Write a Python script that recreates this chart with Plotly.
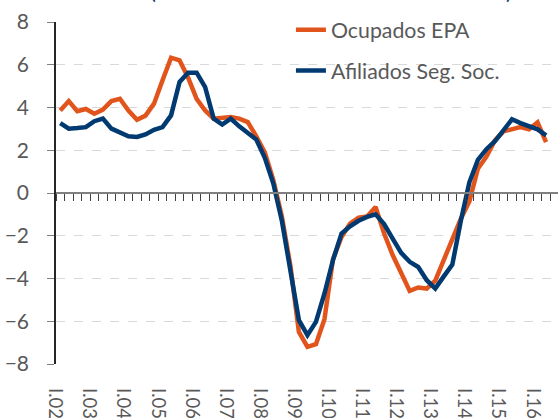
import plotly.graph_objects as go

# Quarterly data 2002Q1 .. 2016Q2 (year-on-year % change)
quarters = [f"{q}T{y:02d}" for y in range(2, 17) for q in ("I", "II", "III", "IV")][:58]

ocupados_epa = [
    3.86, 4.30, 3.83, 3.93, 3.71, 3.90, 4.30, 4.41, 3.86, 3.43,
    3.62, 4.18, 5.27, 6.33, 6.20, 5.40, 4.40, 3.86, 3.48, 3.52,
    3.55, 3.48, 3.32, 2.65, 1.90, 0.60, -1.10, -3.40, -6.50, -7.20,
    -7.07, -5.90, -3.10, -2.06, -1.43, -1.15, -1.10, -0.65, -1.90, -2.90,
    -3.70, -4.58, -4.42, -4.47, -4.10, -3.10, -2.20, -1.20, -0.40, 1.14,
    1.70, 2.46, 2.88, 3.00, 3.08, 2.98, 3.30, 2.38,
]

afiliados_ss = [
    3.27, 3.01, 3.04, 3.08, 3.36, 3.48, 3.01, 2.85, 2.65, 2.62,
    2.74, 2.96, 3.08, 3.63, 5.20, 5.63, 5.63, 4.95, 3.48, 3.20,
    3.48, 3.12, 2.80, 2.50, 1.65, 0.44, -1.30, -3.50, -5.95, -6.65,
    -6.03, -4.70, -3.14, -1.90, -1.56, -1.30, -1.12, -1.00, -1.45, -2.13,
    -2.80, -3.22, -3.46, -4.08, -4.47, -3.90, -3.35, -1.30, 0.50, 1.55,
    2.05, 2.42, 2.93, 3.45, 3.27, 3.15, 2.98, 2.70,
]

tick_labels = [f"I.{y:02d}" for y in range(2, 17)]
tick_positions = list(range(0, 58, 4))
y_ticks = list(range(-8, 9, 2))

series_names = ["Ocupados EPA", "Afiliados Seg. Soc."]
series_colors = ["#E1541B", "#003A70"]

GRAY = "#595959"
FONT = "Lato"

x_idx = list(range(len(quarters)))
x_range = [-0.5, 58.4]

fig = go.Figure()
for i, (name, vals, col) in enumerate(zip(series_names, [ocupados_epa, afiliados_ss], series_colors)):
    fig.add_trace(go.Scatter(
        x=x_idx, y=vals, mode="lines", name=name,
        line=dict(color=col, width=4.5),
        legendgroup=f"g{i}",
        customdata=quarters, hovertemplate="%{customdata}: %{y:.1f}<extra>" + name + "</extra>",
    ))

# empty trace so that the zero-crossing category axis (x2) is rendered
fig.add_trace(go.Scatter(x=[], y=[], xaxis="x2", showlegend=False, hoverinfo="skip"))

fig.update_layout(
    width=558, height=418,
    margin=dict(l=56, r=0, t=21.5, b=54, pad=0, autoexpand=False),
    paper_bgcolor="white", plot_bgcolor="white",
    font=dict(family=FONT, color=GRAY),
    showlegend=True,
    legend=dict(
        x=0.468, y=1.037, xanchor="left", yanchor="top",
        font=dict(size=21.3, color=GRAY, family=FONT),
        bgcolor="rgba(0,0,0,0)", tracegroupgap=10,
        itemwidth=30,
    ),
    xaxis=dict(
        range=x_range, tickmode="array", tickvals=tick_positions, ticktext=tick_labels,
        tickangle=90, ticks="", showline=False, showgrid=False, zeroline=False,
        tickfont=dict(size=18.5, color=GRAY, family=FONT),
        ticklabelstandoff=23, ticklabelshift=-5, automargin=False,
    ),
    xaxis2=dict(
        overlaying="x", anchor="free", position=0.5, range=x_range,
        tickmode="array", tickvals=[k + 0.5 for k in range(-1, 59)],
        ticks="outside", ticklen=7, tickwidth=1, tickcolor="#404040",
        showticklabels=False, showline=True, linecolor="#808080", linewidth=2,
        showgrid=False, zeroline=False, automargin=False,
    ),
    yaxis=dict(
        range=[-8, 8], tickmode="array", tickvals=y_ticks,
        showgrid=True, gridcolor="#D9D9D9", griddash="dash", gridwidth=1,
        zeroline=False, showline=True, linecolor="#262626", linewidth=1.5,
        ticks="outside", ticklen=7, tickcolor="#808080",
        tickfont=dict(size=21, color=GRAY, family=FONT),
        ticklabelstandoff=14, automargin=False,
    ),
    annotations=[
        dict(text="(", x=0.193, y=1.0, xref="paper", yref="paper", xanchor="center",
             yanchor="bottom", yshift=16, showarrow=False,
             font=dict(size=22, color="#1F3C6E", family=FONT)),
        dict(text=")", x=0.902, y=1.0, xref="paper", yref="paper", xanchor="center",
             yanchor="bottom", yshift=16, showarrow=False,
             font=dict(size=22, color="#1F3C6E", family=FONT)),
    ],
)

# the page has no default body margin, so the figure fills the window exactly
fig.write_html("out.html", config={"displayModeBar": False},
               post_script="document.body.style.margin='0';")
